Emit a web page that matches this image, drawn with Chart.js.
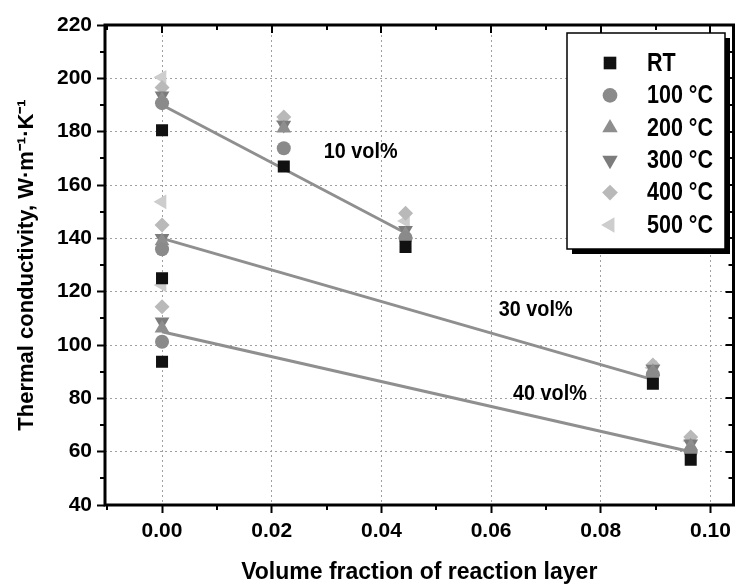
<!DOCTYPE html>
<html><head><meta charset="utf-8">
<script src="https://cdn.jsdelivr.net/npm/chart.js@4.4.1/dist/chart.umd.min.js"></script>
<style>html,body{margin:0;padding:0;background:#fff}#wrap{width:742px;height:588px}</style>
</head><body><div id="wrap"><canvas id="c" width="742" height="588"></canvas></div>
<script>
// ---- data ----
const xValues = [0, 0, 0, 0.0222, 0.0444, 0.0895, 0.0964];
const seriesLabels = ['RT', '100 °C', '200 °C', '300 °C', '400 °C', '500 °C'];
const rtValues   = [180.5, 125, 93.7, 166.9, 136.8, 85.5, 57];
const t100Values = [190.7, 135.9, 101.2, 173.8, 140.1, 89, 60];
const t200Values = [192, 139, 106.3, 181.3, 141.5, 90, 62];
const t300Values = [193.5, 140, 108.7, 182.5, 143, 91, 63];
const t400Values = [196.6, 145, 114.3, 185.5, 149.4, 92.5, 65.5];
const t500Values = [200.4, 153.7, 122.5, 184, 146.5, 91.5, 64];
const fitLabels = ['10 vol%', '30 vol%', '40 vol%'];
const fit10 = [[0, 190], [0.0444, 142]];
const fit30 = [[0, 140], [0.0895, 87]];
const fit40 = [[0, 105], [0.0964, 60]];
const xTickValues = [0, 0.02, 0.04, 0.06, 0.08, 0.10];
const yTickValues = [40, 60, 80, 100, 120, 140, 160, 180, 200, 220];
const xTitle = 'Volume fraction of reaction layer';
const yTitle = 'Thermal conductivity, W\u00B7m\u207B\u00B9\u00B7K\u207B\u00B9';

// ---- styles ----
const FONT = '"Liberation Sans",Arial,sans-serif';
const seriesValues = [rtValues, t100Values, t200Values, t300Values, t400Values, t500Values];
const seriesStyle = [
  {pointStyle: 'rect', radius: 8.5, rotation: 0, color: '#111111'},
  {pointStyle: 'circle', radius: 7, rotation: 0, color: '#8a8a8a'},
  {pointStyle: 'triangle', radius: 8.5, rotation: 0, color: '#8e8e8e'},
  {pointStyle: 'triangle', radius: 8.5, rotation: 180, color: '#7c7c7c'},
  {pointStyle: 'rectRot', radius: 7.5, rotation: 0, color: '#b9b9b9'},
  {pointStyle: 'triangle', radius: 8.5, rotation: -90, color: '#cdcdcd'}
];

const datasets = [];
seriesValues.forEach((vals, i) => {
  const st = seriesStyle[i];
  datasets.push({
    type: 'scatter', label: seriesLabels[i],
    data: xValues.map((x, j) => ({x: x, y: vals[j]})),
    pointStyle: st.pointStyle, pointRadius: st.radius, pointRotation: st.rotation,
    backgroundColor: st.color, borderColor: st.color, borderWidth: 0,
    pointHoverRadius: st.radius, order: 1
  });
});
[fit10, fit30, fit40].forEach((f, i) => {
  datasets.push({
    type: 'line', label: fitLabels[i], isFit: true,
    data: f.map(p => ({x: p[0], y: p[1]})),
    borderColor: '#8f8f8f', borderWidth: 3, pointRadius: 0, fill: false, order: 5
  });
});

const annotationPos = [[0.0295, 172.5], [0.0614, 113], [0.0640, 81.5]];

const framePlugin = {
  id: 'frame',
  afterDatasetsDraw(chart) {
    const {ctx, chartArea: a, scales: {x, y}} = chart;
    ctx.save();
    ctx.fillStyle = '#000';
    ctx.font = 'bold 22px ' + FONT;
    ctx.textBaseline = 'middle';
    ctx.textAlign = 'left';
    fitLabels.forEach((t, i) => {
      const px = x.getPixelForValue(annotationPos[i][0]), py = y.getPixelForValue(annotationPos[i][1]);
      ctx.save(); ctx.translate(px, py); ctx.scale(0.9, 1); ctx.fillText(t, 0, 0); ctx.restore();
    });
    ctx.strokeStyle = '#000';
    ctx.lineWidth = 2;
    ctx.beginPath();
    for (let v = -0.01; v <= 0.105; v += 0.02) {
      const px = Math.round(x.getPixelForValue(v));
      if (px < a.left || px > a.right) continue;
      ctx.moveTo(px, a.bottom); ctx.lineTo(px, a.bottom + 5);
      ctx.moveTo(px, a.top); ctx.lineTo(px, a.top + 5);
    }
    for (let v = 0; v <= 0.1; v += 0.02) {
      const px = Math.round(x.getPixelForValue(v));
      ctx.moveTo(px, a.top); ctx.lineTo(px, a.top + 8);
    }
    for (let v = 50; v < 220; v += 20) {
      const py = Math.round(y.getPixelForValue(v));
      ctx.moveTo(a.left, py); ctx.lineTo(a.left - 5, py);
      ctx.moveTo(a.right, py); ctx.lineTo(a.right - 5, py);
    }
    for (let v = 60; v < 220; v += 20) {
      const py = Math.round(y.getPixelForValue(v));
      ctx.moveTo(a.right, py); ctx.lineTo(a.right - 8, py);
    }
    ctx.stroke();
    ctx.lineWidth = 3;
    ctx.strokeRect(a.left, a.top, a.right - a.left, a.bottom - a.top);
    const lx = 567, ly = 33, lw = 158, lh = 216;
    ctx.fillStyle = '#000';
    ctx.fillRect(lx + 5, ly + 5, lw, lh);
    ctx.fillStyle = '#fff';
    ctx.fillRect(lx, ly, lw, lh);
    ctx.lineWidth = 1.5;
    ctx.strokeStyle = '#000';
    ctx.strokeRect(lx, ly, lw, lh);
    const H = Chart.helpers;
    chart.data.datasets.filter(d => !d.isFit).forEach((d, i) => {
      const cy = ly + 30 + i * 32.4, cx = lx + 43;
      ctx.fillStyle = d.backgroundColor;
      ctx.strokeStyle = d.backgroundColor;
      if (H && H.drawPoint) {
        H.drawPoint(ctx, {pointStyle: d.pointStyle, radius: d.pointRadius * 1.05, rotation: d.pointRotation, borderWidth: 0}, cx, cy);
      }
      ctx.fillStyle = '#000';
      ctx.font = 'bold 25px ' + FONT;
      ctx.textAlign = 'left';
      ctx.textBaseline = 'middle';
      ctx.save(); ctx.translate(lx + 80, cy + 1); ctx.scale(0.86, 1); ctx.fillText(d.label, 0, 0); ctx.restore();
    });
    ctx.restore();
  }
};

new Chart(document.getElementById('c'), {
  data: {datasets},
  options: {
    responsive: false, animation: false,
    layout: {padding: {left: 0, right: 7, top: 25, bottom: 0}},
    plugins: {legend: {display: false}, tooltip: {enabled: false}},
    scales: {
      x: {
        type: 'linear', position: 'bottom', min: -0.0104, max: 0.1042,
        afterBuildTicks: s => { s.ticks = xTickValues.map(v => ({value: v})); },
        afterFit: s => { s.height = 83; },
        ticks: {color: '#000', padding: 6, font: {family: FONT, size: 21, weight: 'bold'}, callback: v => Number(v).toFixed(2)},
        grid: {color: '#a0a0a0', lineWidth: 1, tickLength: 8, tickColor: '#000', tickWidth: 2},
        border: {display: false, dash: [2, 3]},
        title: {display: true, text: xTitle, color: '#000', font: {family: FONT, size: 23, weight: 'bold'}, padding: {top: 0, bottom: 2}}
      },
      y: {
        type: 'linear', min: 40, max: 220,
        afterBuildTicks: s => { s.ticks = yTickValues.map(v => ({value: v})); },
        afterFit: s => { s.width = 105; },
        ticks: {color: '#000', padding: 5, font: {family: FONT, size: 21, weight: 'bold'}},
        grid: {color: c => (c.tick && (c.tick.value === 40 || c.tick.value === 220)) ? 'rgba(0,0,0,0)' : '#a0a0a0', lineWidth: 1, tickLength: 8, tickColor: '#000', tickWidth: 2},
        border: {display: false, dash: [2, 3]},
        title: {display: true, text: yTitle, color: '#000', font: {family: FONT, size: 22, weight: 'bold'}, padding: {top: 14, bottom: 0}}
      }
    }
  },
  plugins: [framePlugin]
});
</script></body></html>
